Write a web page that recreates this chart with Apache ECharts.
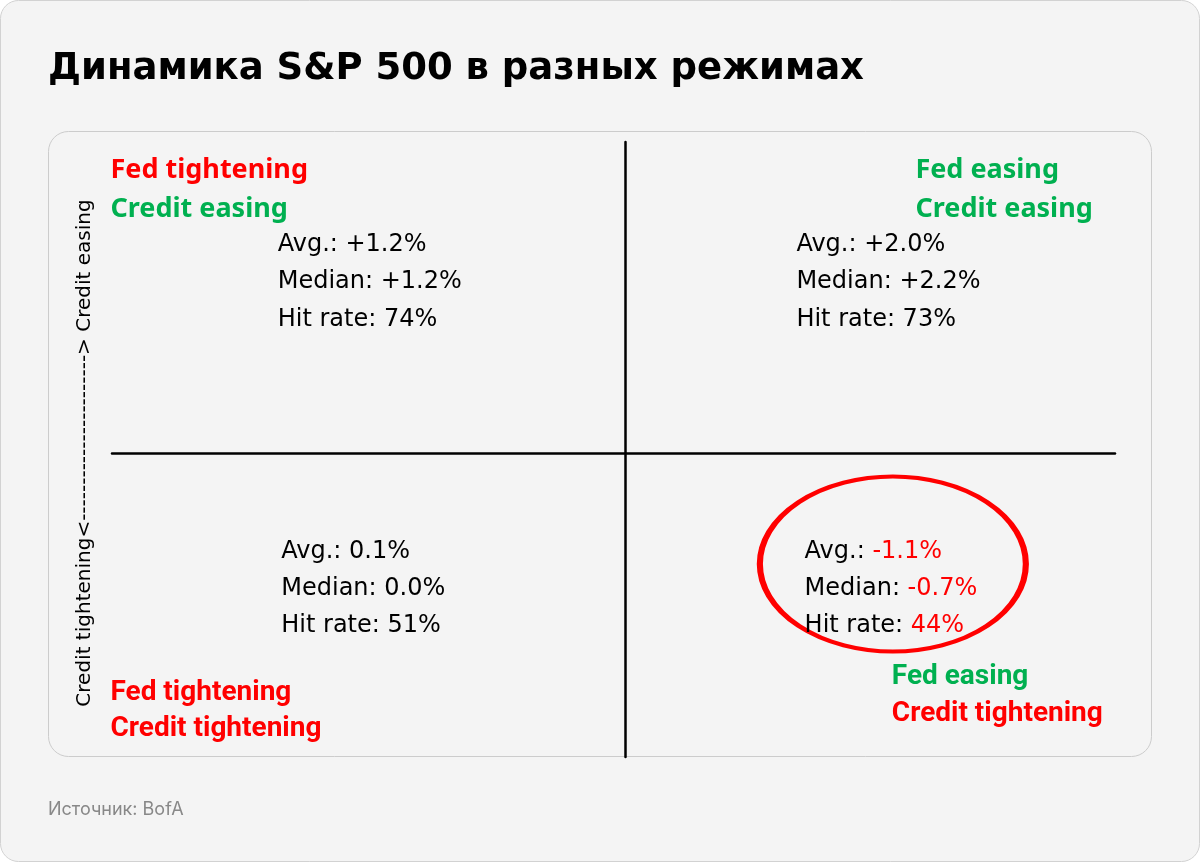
<!DOCTYPE html>
<html>
<head>
<meta charset="utf-8">
<script src="https://cdn.jsdelivr.net/npm/echarts@6/dist/echarts.min.js"></script>
<style>
html,body{margin:0;padding:0;background:#ffffff;}
#chart{width:1200px;height:862px;}
</style>
</head>
<body>
<div id="chart"></div>
<script>
// ---------- content ----------
const titleText = 'Динамика S&P 500 в разных режимах';
const sourceText = 'Источник: BofA';
const fedRegime = ['Fed tightening', 'Fed easing', 'Fed tightening', 'Fed easing'];
const creditRegime = ['Credit easing', 'Credit easing', 'Credit tightening', 'Credit tightening'];
const avgReturn = ['+1.2%', '+2.0%', '0.1%', '-1.1%'];
const medianReturn = ['+1.2%', '+2.2%', '0.0%', '-0.7%'];
const hitRate = ['74%', '73%', '51%', '44%'];
const statNames = ['Avg.:', 'Median:', 'Hit rate:'];
const verticalAxisTitle = 'Credit tightening<-----------------------> Credit easing';
const highlightedQuadrant = 3;

// ---------- layout (data units; x=0 / y=0 are the dividing lines) ----------
const X_RANGE = [-1, 0.955];
const Y_RANGE = [-0.9775, 1];
const statAnchor = [[-0.678, 0.668], [0.333, 0.668], [-0.671, -0.316], [0.349, -0.316]];
const statStep = 0.119;
const headAnchor = [[-1.004, 0.910], [0.565, 0.910], [-1.004, -0.771], [0.519, -0.720]];
const headStep = [0.125, 0.125, 0.116, 0.119];
const headFont = [
  {fontFamily: 'Noto Sans', fontSize: 27},
  {fontFamily: 'Noto Sans', fontSize: 27},
  {fontFamily: 'Roboto', fontSize: 28},
  {fontFamily: 'Roboto', fontSize: 28}
];
const ellipseCenter = [0.522, -0.357];
const ellipseSize = [266, 175];

const RED = '#ff0000';
const GREEN = '#00b050';
const INK = '#000000';

function regimeColor(txt) { return /tightening/.test(txt) ? RED : GREEN; }

// stats text points
const statData = [];
for (let q = 0; q < 4; q++) {
  const values = [avgReturn[q], medianReturn[q], hitRate[q]];
  for (let i = 0; i < 3; i++) {
    statData.push({
      value: [statAnchor[q][0], statAnchor[q][1] - i * statStep],
      label: {
        formatter: '{k|' + statNames[i] + ' }{v|' + values[i] + '}',
        rich: {
          k: {color: INK, fontFamily: 'DejaVu Sans', fontSize: 24},
          v: {color: q === highlightedQuadrant ? RED : INK, fontFamily: 'DejaVu Sans', fontSize: 24}
        }
      }
    });
  }
}

// regime header points
const headData = [];
for (let q = 0; q < 4; q++) {
  const lines = [fedRegime[q], creditRegime[q]];
  lines.forEach(function (txt, i) {
    headData.push({
      value: [headAnchor[q][0], headAnchor[q][1] - i * headStep[q]],
      label: {
        formatter: txt,
        color: regimeColor(txt),
        fontWeight: 'bold',
        fontFamily: headFont[q].fontFamily,
        fontSize: headFont[q].fontSize
      }
    });
  });
}

const chart = echarts.init(document.getElementById('chart'), null, {renderer: 'canvas'});

const textItem = {color: 'rgba(0,0,0,0)', opacity: 1};

const option = {
  backgroundColor: 'transparent',
  animation: false,
  title: [
    {
      text: titleText, left: 48, top: 51, padding: 0,
      textStyle: {fontFamily: 'DejaVu Sans', fontWeight: 'bold', fontSize: 37, color: '#000'}
    },
    {
      text: sourceText, left: 48, top: 801, padding: 0,
      textStyle: {fontFamily: 'Inter', fontWeight: 'normal', fontSize: 18, color: '#888888'}
    }
  ],
  graphic: [
    {
      type: 'rect', z: -20, silent: true,
      shape: {x: 0.5, y: 0.5, width: 1199, height: 861, r: 18},
      style: {fill: '#f4f4f4', stroke: '#d2d2d2', lineWidth: 1}
    },
    {
      type: 'rect', z: -10, silent: true,
      shape: {x: 48.5, y: 131.5, width: 1103, height: 625, r: 20},
      style: {fill: '#f4f4f4', stroke: '#cccccc', lineWidth: 1}
    },
    {
      type: 'text', x: 85, y: 453, rotation: Math.PI / 2, silent: true,
      style: {
        text: verticalAxisTitle, fill: INK, fontFamily: 'DejaVu Sans', fontSize: 20,
        align: 'center', verticalAlign: 'middle'
      }
    }
  ],
  grid: {left: 112, top: 142, width: 1003, height: 615, containLabel: false},
  xAxis: {
    type: 'value', min: X_RANGE[0], max: X_RANGE[1],
    axisLine: {show: true, onZero: true, lineStyle: {color: INK, width: 2.5}},
    axisTick: {show: false}, axisLabel: {show: false}, splitLine: {show: false}
  },
  yAxis: {
    type: 'value', min: Y_RANGE[0], max: Y_RANGE[1],
    axisLine: {show: true, onZero: true, lineStyle: {color: INK, width: 2.5}},
    axisTick: {show: false}, axisLabel: {show: false}, splitLine: {show: false}
  },
  series: [
    {
      type: 'scatter', name: 'stats', clip: false, silent: true,
      symbol: 'circle', symbolSize: 1,
      itemStyle: textItem,
      label: {show: true, position: 'right', distance: 0, align: 'left', verticalAlign: 'middle'},
      data: statData
    },
    {
      type: 'scatter', name: 'regimes', clip: false, silent: true,
      symbol: 'circle', symbolSize: 1,
      itemStyle: textItem,
      label: {show: true, position: 'right', distance: 0, align: 'left', verticalAlign: 'middle'},
      data: headData
    },
    {
      type: 'scatter', name: 'highlight', clip: false, silent: true,
      symbol: 'path://M0,50 A50,50 0 1,1 100,50 A50,50 0 1,1 0,50 Z',
      symbolSize: ellipseSize, symbolKeepAspect: false,
      itemStyle: {color: 'rgba(0,0,0,0)', opacity: 1, borderColor: RED, borderWidth: 5},
      data: [ellipseCenter]
    }
  ]
};

chart.setOption(option);
</script>
</body>
</html>
